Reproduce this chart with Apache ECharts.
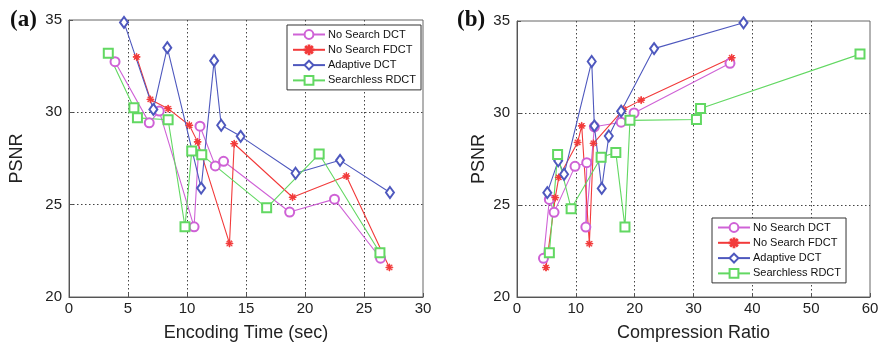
<!DOCTYPE html>
<html>
<head>
<meta charset="utf-8">
<script src="https://cdn.jsdelivr.net/npm/echarts@6.0.0/dist/echarts.min.js"></script>
<style>
html,body{margin:0;padding:0;background:#fff;}
#c{width:882px;height:352px;}
</style>
</head>
<body>
<div id="c"></div>
<script>
// ---- Data ----
var seriesNames = ['No Search DCT', 'No Search FDCT', 'Adaptive DCT', 'Searchless RDCT'];

// (a) Encoding time (sec) vs PSNR
var dctTime   = [3.9, 6.8, 7.65, 10.6, 11.1, 12.4, 13.1, 18.7, 22.5, 26.4];
var dctPsnrA  = [32.74, 29.43, 30.07, 23.8, 29.25, 27.1, 27.35, 24.6, 25.3, 22.1];
var fdctTime  = [5.73, 6.9, 8.4, 10.2, 10.9, 13.6, 14.0, 18.95, 23.5, 27.15];
var fdctPsnrA = [33.0, 30.7, 30.2, 29.3, 28.4, 22.9, 28.3, 25.4, 26.55, 21.6];
var adctTime  = [4.66, 7.15, 8.33, 11.2, 12.3, 12.9, 14.55, 19.2, 22.97, 27.2];
var adctPsnrA = [34.87, 30.16, 33.5, 25.9, 32.8, 29.3, 28.7, 26.7, 27.4, 25.66];
var rdctTime  = [3.33, 5.5, 5.8, 8.4, 9.83, 10.4, 11.25, 16.75, 21.2, 26.35];
var rdctPsnrA = [33.2, 30.25, 29.7, 29.6, 23.8, 27.9, 27.7, 24.83, 27.74, 22.4];

// (b) Compression ratio vs PSNR
var dctCR     = [4.5, 5.5, 6.3, 9.86, 11.85, 11.7, 13.15, 17.7, 19.9, 36.2];
var dctPsnrB  = [22.1, 25.3, 24.6, 27.1, 27.3, 23.8, 29.25, 29.5, 30.0, 32.7];
var fdctCR    = [4.93, 6.5, 7.1, 10.3, 11.0, 12.3, 13.0, 18.1, 21.1, 36.5];
var fdctPsnrB = [21.6, 25.4, 26.5, 28.4, 29.3, 22.9, 28.35, 30.2, 30.7, 33.0];
var adctCR    = [5.15, 7.0, 8.0, 12.7, 13.15, 14.4, 15.6, 17.7, 23.3, 38.5];
var adctPsnrB = [25.67, 27.4, 26.67, 32.8, 29.3, 25.9, 28.75, 30.1, 33.5, 34.9];
var rdctCR    = [5.5, 6.9, 9.2, 14.3, 16.8, 18.35, 19.2, 30.5, 31.2, 58.3];
var rdctPsnrB = [22.4, 27.75, 24.8, 27.6, 27.85, 23.8, 29.6, 29.65, 30.25, 33.2];

// Axis ticks
var timeTicks = [0, 5, 10, 15, 20, 25, 30];
var crTicks = [0, 10, 20, 30, 40, 50, 60];
var psnrTicks = [20, 25, 30, 35];

// ---- Styles ----
var colors = ['#cf62d6', '#f23a3a', '#4e58be', '#62d862'];
var starPath = 'path://M-0.45,-5L0.45,-5L0.45,5L-0.45,5Z M-5,-0.45L5,-0.45L5,0.45L-5,0.45Z M-3.2,-3.85L3.85,3.2L3.2,3.85L-3.85,-3.2Z M-3.2,3.85L-3.85,3.2L3.2,-3.85L3.85,-3.2Z';
var symbols = ['emptyCircle', starPath, 'emptyDiamond', 'emptyRect'];
var symbolSizes = [9, 7, [8, 11], 9];

function pairs(xs, ys) { return xs.map(function (x, i) { return [x, ys[i]]; }); }

var dataA = [pairs(dctTime, dctPsnrA), pairs(fdctTime, fdctPsnrA), pairs(adctTime, adctPsnrA), pairs(rdctTime, rdctPsnrA)];
var dataB = [pairs(dctCR, dctPsnrB), pairs(fdctCR, fdctPsnrB), pairs(adctCR, adctPsnrB), pairs(rdctCR, rdctPsnrB)];

var FONT = 'Liberation Sans, Arial, sans-serif';
var gridLine = { show: true, showMinLine: false, showMaxLine: false, lineStyle: { color: '#444', width: 1, type: [1.5, 2.5] } };

function xAxisDef(idx, ticks, name) {
  return {
    type: 'value', gridIndex: idx, min: ticks[0], max: ticks[ticks.length - 1],
    interval: ticks[1] - ticks[0],
    name: name, nameLocation: 'middle', nameGap: 27,
    nameTextStyle: { fontFamily: FONT, fontSize: 18, color: '#222' },
    axisLine: { show: true, onZero: false, lineStyle: { color: '#555', width: 1 } },
    axisTick: { show: true, inside: true, length: 4, lineStyle: { color: '#555' } },
    axisLabel: { fontFamily: FONT, fontSize: 15, color: '#222', margin: 4 },
    splitLine: gridLine
  };
}
function yAxisDef(idx, gap) {
  return {
    type: 'value', gridIndex: idx, min: psnrTicks[0], max: psnrTicks[psnrTicks.length - 1],
    interval: psnrTicks[1] - psnrTicks[0],
    name: 'PSNR', nameLocation: 'middle', nameGap: gap,
    nameTextStyle: { fontFamily: FONT, fontSize: 18, color: '#222' },
    axisLine: { show: true, onZero: false, lineStyle: { color: '#555', width: 1 } },
    axisTick: { show: true, inside: true, length: 4, lineStyle: { color: '#555' } },
    axisLabel: { fontFamily: FONT, fontSize: 15, color: '#222', margin: 7 },
    splitLine: gridLine
  };
}

var series = [];
[dataA, dataB].forEach(function (set, g) {
  set.forEach(function (d, i) {
    series.push({
      name: seriesNames[i], type: 'line', xAxisIndex: g, yAxisIndex: g,
      data: d, symbol: symbols[i], symbolSize: symbolSizes[i],
      showAllSymbol: true, animation: false,
      lineStyle: { color: colors[i], width: 1.1 },
      itemStyle: { color: colors[i], borderColor: colors[i], borderWidth: 1 }
    });
  });
});

function legendDef(left, top) {
  return {
    data: seriesNames, orient: 'vertical', left: left, top: top,
    itemWidth: 32, itemHeight: 11, itemGap: 4.3,
    padding: [4, 5, 4, 5],
    borderColor: '#333', borderWidth: 1, backgroundColor: '#fff',
    textStyle: { fontFamily: FONT, fontSize: 11, color: '#111', padding: [0, 0, 0, -2] },
    selectedMode: false
  };
}

var option = {
  backgroundColor: '#fff',
  animation: false,
  title: [
    { text: '(a)', left: 5, top: 4, textStyle: { fontFamily: 'Liberation Serif, Times New Roman, serif', fontWeight: 'bold', fontSize: 23, color: '#111' } },
    { text: '(b)', left: 452, top: 4, textStyle: { fontFamily: 'Liberation Serif, Times New Roman, serif', fontWeight: 'bold', fontSize: 23, color: '#111' } }
  ],
  grid: [
    { left: 69, top: 20, width: 354, height: 277, show: true, borderColor: '#666', borderWidth: 1, backgroundColor: 'transparent' },
    { left: 517, top: 21, width: 353, height: 276, show: true, borderColor: '#666', borderWidth: 1, backgroundColor: 'transparent' }
  ],
  xAxis: [xAxisDef(0, timeTicks, 'Encoding Time (sec)'), xAxisDef(1, crTicks, 'Compression Ratio')],
  yAxis: [yAxisDef(0, 43), yAxisDef(1, 29)],
  legend: [legendDef(287, 25), legendDef(712, 218)],
  series: series
};

var chart = echarts.init(document.getElementById('c'), null, { renderer: 'canvas' });
chart.setOption(option);
</script>
</body>
</html>
